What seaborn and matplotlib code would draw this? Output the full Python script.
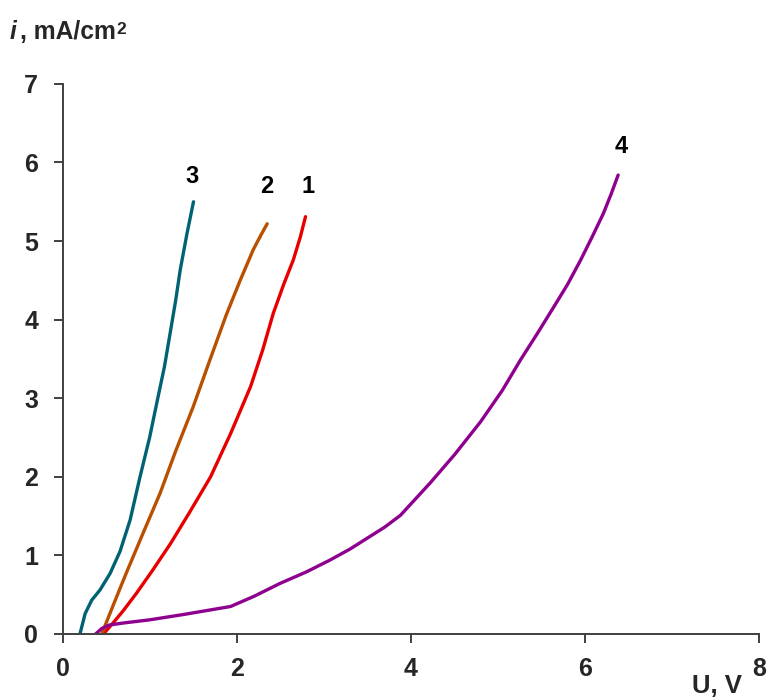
import matplotlib
matplotlib.use("Agg")
import matplotlib.pyplot as plt
import seaborn as sns
import pandas as pd

sns.set_style("white")
plt.rcParams['font.family'] = ['Liberation Sans', 'DejaVu Sans']

# Curve data (U, V ; i, mA/cm2)
u1 = [0.47, 0.58, 0.70, 0.85, 1.04, 1.24, 1.46, 1.70, 1.93, 2.16, 2.30, 2.42, 2.54, 2.65, 2.73, 2.79]
i1 = [0.00, 0.14, 0.30, 0.52, 0.82, 1.15, 1.55, 2.00, 2.55, 3.15, 3.62, 4.08, 4.45, 4.76, 5.05, 5.31]
u2 = [0.45, 0.58, 0.73, 0.92, 1.12, 1.30, 1.50, 1.69, 1.88, 2.04, 2.19, 2.28, 2.35]
i2 = [0.00, 0.36, 0.77, 1.27, 1.79, 2.33, 2.89, 3.48, 4.06, 4.50, 4.89, 5.08, 5.22]
u3 = [0.20, 0.26, 0.335, 0.43, 0.546, 0.66, 0.776, 0.89, 1.00, 1.09, 1.17, 1.236, 1.30, 1.351, 1.43, 1.504]
i3 = [0.00, 0.26, 0.43, 0.56, 0.77, 1.05, 1.45, 2.00, 2.50, 2.98, 3.40, 3.83, 4.25, 4.63, 5.10, 5.50]
u4 = [0.38, 0.45, 0.54, 0.70, 1.00, 1.40, 1.93, 2.20, 2.50, 2.80, 3.07, 3.30, 3.50, 3.70, 3.88,
      4.22, 4.50, 4.80, 5.05, 5.26, 5.45, 5.64, 5.80, 5.95, 6.08, 6.21, 6.30, 6.38]
i4 = [0.00, 0.07, 0.115, 0.14, 0.18, 0.25, 0.35, 0.48, 0.645, 0.79, 0.94, 1.08, 1.22, 1.36, 1.51,
      1.92, 2.28, 2.70, 3.10, 3.49, 3.82, 4.16, 4.45, 4.76, 5.05, 5.35, 5.60, 5.84]

curve_names = ["1", "2", "3", "4"]
curve_colors = ["#E80000", "#B85000", "#006272", "#8E008E"]
label_x = [2.825, 2.35, 1.485, 6.42]
label_y = [5.69, 5.69, 5.82, 6.20]

x_ticks = [0, 2, 4, 6, 8]
y_ticks = [0, 1, 2, 3, 4, 5, 6, 7]

frames = []
for name, u, i in zip(curve_names, [u1, u2, u3, u4], [i1, i2, i3, i4]):
    frames.append(pd.DataFrame({"U": u, "i": i, "curve": name}))
df = pd.concat(frames, ignore_index=True)

fig = plt.figure(figsize=(7.69, 6.99), dpi=100)
ax = fig.add_axes([0.0813, 0.093, 0.906, 0.787])

sns.lineplot(data=df, x="U", y="i", hue="curve", palette=dict(zip(curve_names, curve_colors)),
             sort=False, estimator=None, units="curve", lw=2.4, legend=False, ax=ax)
for ln in ax.lines:
    ln.set_solid_joinstyle("round")
    ln.set_solid_capstyle("round")

for name, lx, ly in zip(curve_names, label_x, label_y):
    ax.text(lx, ly, name, ha="center", va="center", fontsize=17, fontweight="bold", color="black")

ax.set_xlim(0, 8)
ax.set_ylim(0, 7)
ax.set_xticks(x_ticks)
ax.set_yticks(y_ticks)
ax.set_xticklabels([str(t) for t in x_ticks], fontsize=18, fontweight="bold")
ax.set_yticklabels([str(t) for t in y_ticks], fontsize=18, fontweight="bold")
ax.set_xlabel("")
ax.set_ylabel("")
for side in ["top", "right"]:
    ax.spines[side].set_visible(False)
for side in ["left", "bottom"]:
    ax.spines[side].set_color("#404040")
    ax.spines[side].set_linewidth(1.4)
ax.tick_params(axis="both", direction="out", length=6.5, width=1.4, color="#404040",
               left=True, bottom=True)
ax.tick_params(axis="x", pad=10)
ax.tick_params(axis="y", pad=11)

fig.text(0.013, 0.944, "i", fontsize=17.7, fontweight="bold", style="italic", ha="left", va="baseline")
fig.text(0.026, 0.944, ", mA/cm", fontsize=17.7, fontweight="bold", ha="left", va="baseline")
fig.text(0.1515, 0.952, "2", fontsize=12.5, fontweight="bold", ha="left", va="baseline")
fig.text(0.932, 0.009, "U, V", fontsize=18.5, fontweight="bold", ha="center", va="baseline")

fig.savefig("out.png", dpi=100)
